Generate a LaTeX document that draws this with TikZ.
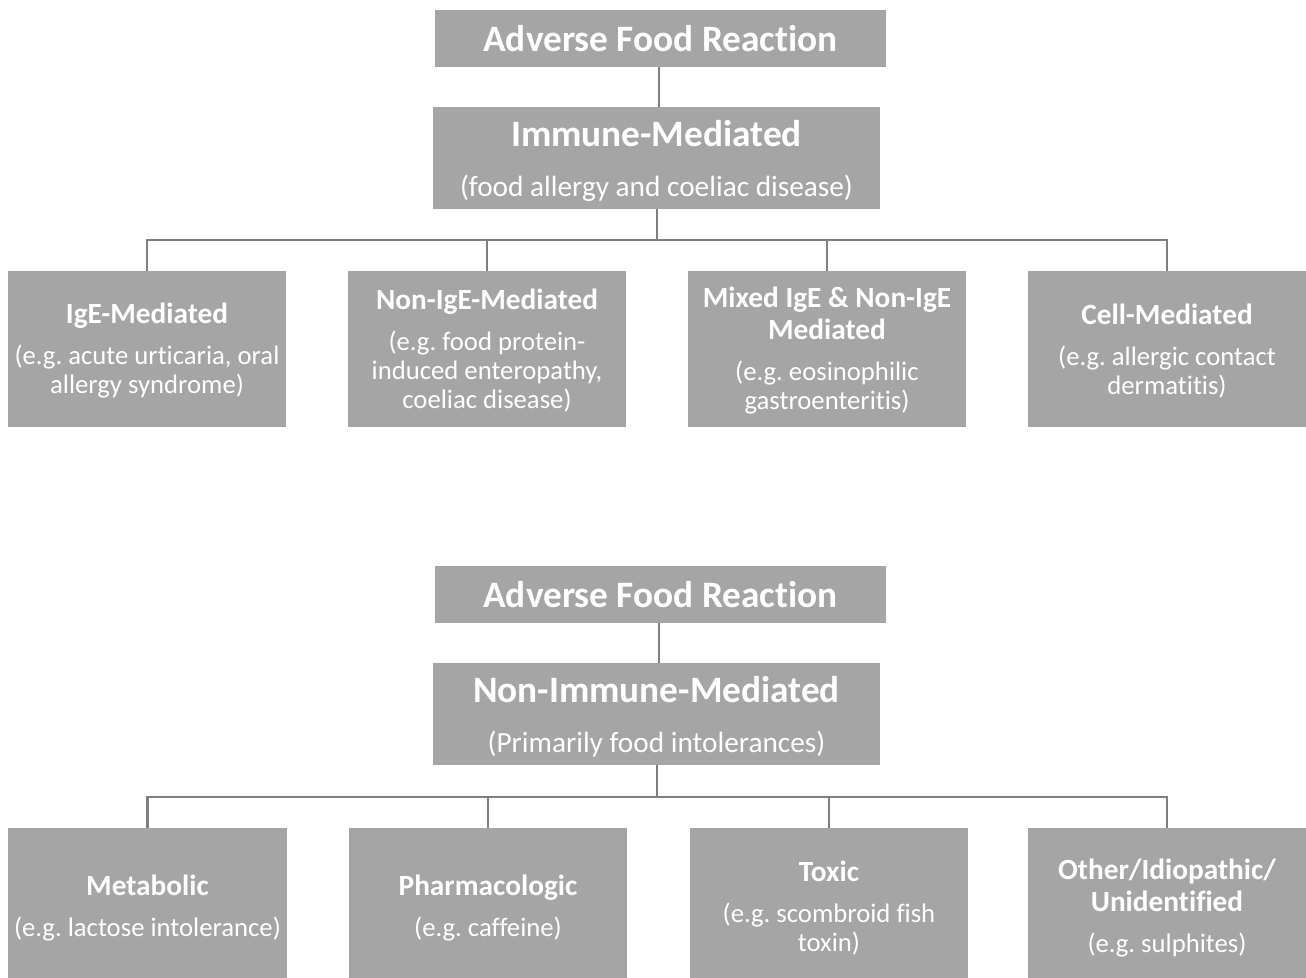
\documentclass[tikz,border=0pt]{standalone}
\usepackage{fontspec}
\setmainfont{Carlito}[Ligatures=NoCommon]
\frenchspacing
\definecolor{boxgray}{HTML}{A5A5A5}
\definecolor{linegray}{HTML}{7F7F7F}
\newcommand{\ttl}{\bfseries\fontsize{37.3}{44}\selectfont}
\newcommand{\stl}{\mdseries\fontsize{29.3}{36}\selectfont}
\newcommand{\ctl}{\bfseries\fontsize{29.3}{34}\selectfont}
\newcommand{\csb}{\mdseries\fontsize{26.7}{29}\selectfont}
\begin{document}
\begin{tikzpicture}[x=1pt,y=-1pt,
  box/.style={fill=boxgray, inner sep=0pt},
  lab/.style={text=white, inner sep=0pt, align=center},
  midlab/.style={lab, yshift=-3pt, font={\fontsize{29.3}{36}\selectfont\lineskiplimit=-100pt}},
  clab/.style={lab, font={\fontsize{26.7}{29}\selectfont\lineskiplimit=-100pt}},
  topbox/.style={box, minimum width=451pt, minimum height=57pt},
  midbox/.style={box, minimum width=447pt, minimum height=102pt},
  childbox/.style={box, minimum width=278pt, minimum height=156pt},
  conn/.style={draw=linegray, line width=2.5pt}]
\useasboundingbox (0,0) rectangle (1306,977);

% ---------- Immune-mediated tree ----------
\node[topbox, label={[lab]center:{\ttl Adverse Food Reaction}}] (A1) at (660.5,38.5) {};
\node[midbox, label={[midlab]center:{\ttl Immune-Mediated\\[14pt]\stl (food allergy and coeliac disease)}}] (B1) at (656.5,158) {};
\node[childbox, label={[clab, yshift=-2pt]center:{\ctl IgE-Mediated\\[12pt]\csb (e.g. acute urticaria, oral\\\csb allergy syndrome)}}] (C1) at (147,349) {};
\node[childbox, label={[clab, yshift=-2pt]center:{\ctl Non-IgE-Mediated\\[12pt]\csb (e.g. food protein-\\\csb induced enteropathy,\\\csb coeliac disease)}}] (C2) at (487,349) {};
\node[childbox, label={[clab, yshift=-2pt]center:{\ctl Mixed IgE \& Non-IgE\\[3pt]\ctl Mediated\\[12pt]\csb (e.g. eosinophilic\\\csb gastroenteritis)}}] (C3) at (827,349) {};
\node[childbox, label={[clab, yshift=-2pt]center:{\ctl Cell-Mediated\\[12pt]\csb (e.g. allergic contact\\\csb dermatitis)}}] (C4) at (1167,349) {};

\coordinate (bus1) at (657,240);
\draw[conn] (A1.south -| 659,0) -- (B1.north -| 659,0);
\draw[conn] (B1.south -| bus1) -- (bus1);
\draw[conn] (C1.north) |- (bus1) -| (C4.north);
\draw[conn] (C2.north) -- (C2.north |- bus1);
\draw[conn] (C3.north) -- (C3.north |- bus1);

% ---------- Non-immune-mediated tree ----------
\node[topbox, label={[lab]center:{\ttl Adverse Food Reaction}}] (A2) at (660.5,594.5) {};
\node[midbox, label={[midlab]center:{\ttl Non-Immune-Mediated\\[14pt]\stl (Primarily food intolerances)}}] (B2) at (656.5,714) {};
\node[childbox, minimum width=279pt, minimum height=158pt, label={[clab, yshift=-1pt]center:{\ctl Metabolic\\[12pt]\csb (e.g. lactose intolerance)}}] (D1) at (147.5,907) {};
\node[childbox, minimum height=158pt, label={[clab, yshift=-1pt]center:{\ctl Pharmacologic\\[12pt]\csb (e.g. caffeine)}}] (D2) at (488,907) {};
\node[childbox, minimum height=158pt, label={[clab, yshift=-1pt]center:{\ctl Toxic\\[12pt]\csb (e.g. scombroid fish\\\csb toxin)}}] (D3) at (829,907) {};
\node[childbox, minimum height=158pt, label={[clab, yshift=-1pt]center:{\ctl Other/Idiopathic/\\[3pt]\ctl Unidentified\\[12pt]\csb (e.g. sulphites)}}] (D4) at (1167,907) {};

\coordinate (bus2) at (657,797);
\draw[conn] (A2.south -| 659,0) -- (B2.north -| 659,0);
\draw[conn] (B2.south -| bus2) -- (bus2);
\draw[conn] (D1.north) |- (bus2) -| (D4.north);
\draw[conn] (D2.north) -- (D2.north |- bus2);
\draw[conn] (D3.north) -- (D3.north |- bus2);
\end{tikzpicture}
\end{document}
